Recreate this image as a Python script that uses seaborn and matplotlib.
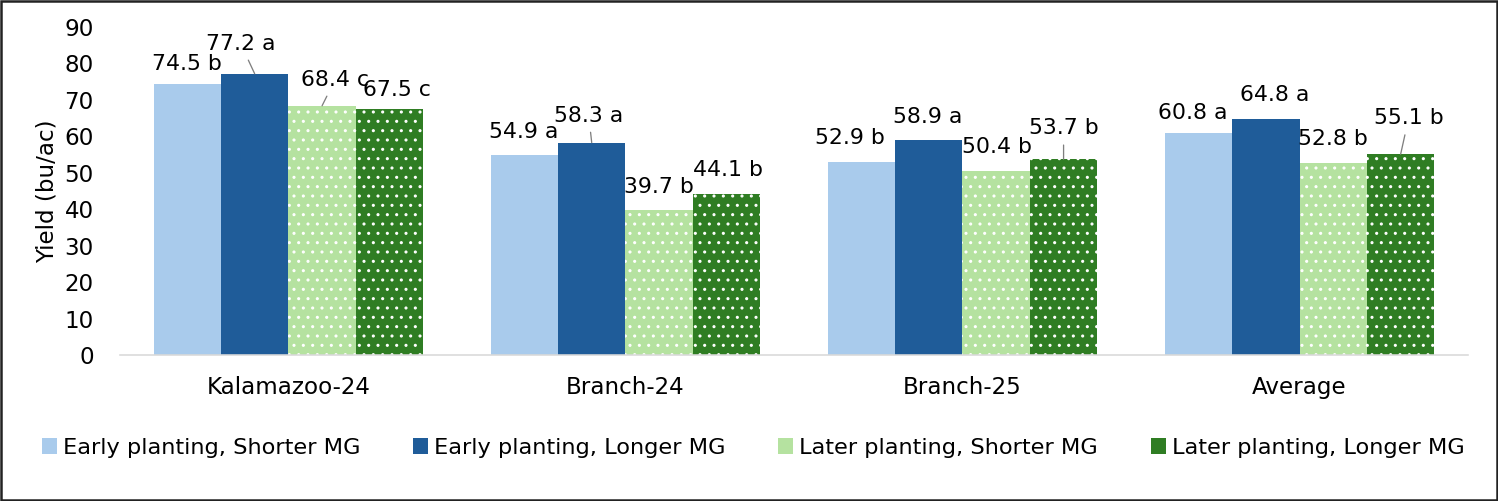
import numpy as np
import pandas as pd
import matplotlib
matplotlib.use("Agg")
import matplotlib.pyplot as plt
from matplotlib.patches import Patch, Rectangle
import seaborn as sns

# data
sites = ["Kalamazoo-24", "Branch-24", "Branch-25", "Average"]
treatments = ["Early planting, Shorter MG", "Early planting, Longer MG",
              "Later planting, Shorter MG", "Later planting, Longer MG"]
early_short = [74.5, 54.9, 52.9, 60.8]
early_long = [77.2, 58.3, 58.9, 64.8]
later_short = [68.4, 39.7, 50.4, 52.8]
later_long = [67.5, 44.1, 53.7, 55.1]
letters_early_short = ["b", "a", "b", "a"]
letters_early_long = ["a", "a", "a", "a"]
letters_later_short = ["c", "b", "b", "b"]
letters_later_long = ["c", "b", "b", "b"]

values = [early_short, early_long, later_short, later_long]
letters = [letters_early_short, letters_early_long, letters_later_short, letters_later_long]

rows = []
for t, vals in zip(treatments, values):
    for s, v in zip(sites, vals):
        rows.append({"site": s, "treatment": t, "yield": v})
df = pd.DataFrame(rows)

colors = ["#A9CBEC", "#1F5C99", "#B5E2A0", "#2F7D23"]
hatches = [None, None, "..", ".."]

# label offsets in pixels (dx, dy of label centre from bar top) and leader lines
offsets = [
    [(0, -20), (-1, -23), (-11, -24), (-6, -20)],
    [(-14, -30), (-3, -27), (-1, -23), (9, -24)],
    [(13, -26), (0, -23), (1, -24), (0, -24)],
    [(7, -19), (1, -24), (0, -31), (8, -36)],
]
leaders = [
    [False, False, False, False],
    [True, True, False, False],
    [True, False, False, False],
    [False, False, True, True],
]

DPI = 112
def P(px):
    # pixels -> points
    return px * 72 / DPI

sns.set_style("white")
plt.rcParams["font.family"] = ["DejaVu Sans"]
plt.rcParams["hatch.linewidth"] = 0.8
plt.rcParams["text.color"] = "black"
plt.rcParams["axes.labelcolor"] = "black"
plt.rcParams["xtick.color"] = "black"
plt.rcParams["ytick.color"] = "black"

fig = plt.figure(figsize=(1498 / DPI, 501 / DPI), dpi=DPI)
ax = fig.add_axes([0.080, 0.2914, 0.900, 0.6546])

sns.barplot(data=df, x="site", y="yield", hue="treatment", order=sites,
            hue_order=treatments, palette=colors, width=0.8, gap=0,
            saturation=1, legend=False, ax=ax, errorbar=None)

for i, cont in enumerate(ax.containers):
    for j, bar in enumerate(cont.patches):
        bar.set_linewidth(0)
        if hatches[i]:
            bar.set_hatch(hatches[i])
            bar.set_edgecolor("white")
        x = bar.get_x() + bar.get_width() / 2
        h = bar.get_height()
        dx, dy = offsets[i][j]
        label = f"{values[i][j]:.1f} {letters[i][j]}"
        kw = dict(xy=(x, h), xytext=(dx, -dy), textcoords="offset pixels",
                  ha="center", va="center", fontsize=P(22), color="black")
        if leaders[i][j]:
            kw["arrowprops"] = dict(arrowstyle="-", color="#7F7F7F", lw=P(1.3),
                                    shrinkA=2, shrinkB=0)
        ax.annotate(label, **kw)

ax.set_ylim(0, 90)
ax.set_yticks(np.arange(0, 91, 10))
ax.set_xlim(-0.5, 3.5)
ax.set_xlabel("")
ax.set_ylabel("Yield (bu/ac)", fontsize=P(23), labelpad=P(6))
ax.tick_params(axis="y", length=0, labelsize=P(23), pad=P(26))
ax.tick_params(axis="x", length=0, labelsize=P(23), pad=P(21))
for side in ["top", "right", "left"]:
    ax.spines[side].set_visible(False)
ax.spines["bottom"].set_color("#D9D9D9")
ax.spines["bottom"].set_linewidth(P(1.6))

handles = [Patch(facecolor=c, edgecolor=c, linewidth=0) for c in colors]
fig.legend(handles, treatments, loc="center", bbox_to_anchor=(753 / 1498, 1 - 448 / 501),
           ncol=4, frameon=False, fontsize=P(22.5), handlelength=0.68, handleheight=0.68,
           handletextpad=0.25, columnspacing=2.35)

fig.patches.append(Rectangle((0.001, 0.002), 0.998, 0.996, transform=fig.transFigure,
                             fill=False, edgecolor="#222222", linewidth=P(2.5)))

fig.savefig("out.png", dpi=DPI)
